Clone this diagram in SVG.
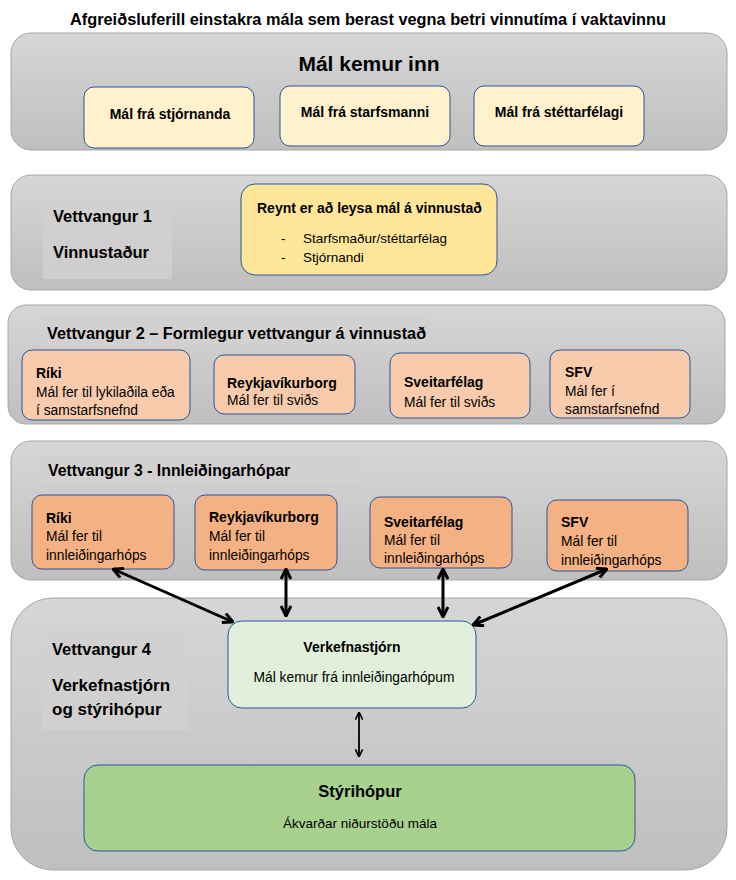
<svg xmlns="http://www.w3.org/2000/svg" width="736" height="880" viewBox="0 0 736 880">
<defs>
<linearGradient id="pg" x1="0" y1="0" x2="0" y2="1">
<stop offset="0" stop-color="#d6d6d6"/>
<stop offset="1" stop-color="#bfbfbf"/>
</linearGradient>
<marker id="ah" viewBox="0 0 12 12" refX="11" refY="6" markerWidth="12" markerHeight="12" markerUnits="userSpaceOnUse" orient="auto-start-reverse">
<path d="M1,1 L11,6 L1,11" fill="none" stroke="#000" stroke-width="3" stroke-linejoin="miter"/>
</marker>
<marker id="ahs" viewBox="0 0 10 10" refX="9.5" refY="5" markerWidth="9" markerHeight="9" markerUnits="userSpaceOnUse" orient="auto-start-reverse">
<path d="M1,1 L9.5,5 L1,9" fill="none" stroke="#000" stroke-width="1.8"/>
</marker>
</defs>
<style>
text{font-family:"Liberation Sans",Arial,sans-serif;fill:#000}
.b{font-weight:bold}
.panel{fill:url(#pg);stroke:#a6a6a6;stroke-width:1}
.lab{fill:#d2d0d0;opacity:0.8}
.box{stroke:#2f5597;stroke-width:1}
.y1{fill:#fff2cc}
.y2{fill:#ffe699}
.o1{fill:#f8cbad}
.o2{fill:#f4b183}
.g1{fill:#e2efda}
.g2{fill:#a9d18e}
.c{text-anchor:middle}
.arr{stroke:#000;stroke-width:3;fill:none}
.arrs{stroke:#000;stroke-width:1.8;fill:none}
</style>
<rect width="736" height="880" fill="#fff"/>
<text class="b c" x="368" y="25" font-size="16" textLength="596" lengthAdjust="spacingAndGlyphs">Afgreiðsluferill einstakra mála sem berast vegna betri vinnutíma í vaktavinnu</text>

<g id="panel1">
<rect class="panel" x="11" y="33" width="716" height="117" rx="20"/>
<text class="b c" x="369" y="71" font-size="21">Mál kemur inn</text>
</g>
<g id="n-stjornanda">
<rect class="box y1" x="84" y="87" width="170" height="61" rx="10"/>
<text class="b c" x="170" y="119" font-size="14">Mál frá stjórnanda</text>
</g>
<g id="n-starfsmanni">
<rect class="box y1" x="280" y="86" width="170" height="60" rx="10"/>
<text class="b c" x="365" y="117" font-size="14">Mál frá starfsmanni</text>
</g>
<g id="n-stettarfelagi">
<rect class="box y1" x="474" y="86" width="170" height="60" rx="10"/>
<text class="b c" x="559" y="117" font-size="14">Mál frá stéttarfélagi</text>
</g>

<g id="panel2">
<rect class="panel" x="11" y="175" width="716" height="115" rx="20"/>
<rect class="lab" x="43" y="199" width="129" height="80"/>
<text class="b" x="53" y="222" font-size="16.5">Vettvangur 1</text>
<text class="b" x="53" y="258" font-size="16.5">Vinnustaður</text>
</g>
<g id="n-vinnustad">
<rect class="box y2" x="241" y="184" width="256" height="91" rx="14"/>
<text class="b" x="257" y="213" font-size="14">Reynt er að leysa mál á vinnustað</text>
<text x="281" y="243" font-size="13.5">-</text>
<text x="303" y="243" font-size="13.5">Starfsmaður/stéttarfélag</text>
<text x="281" y="262" font-size="13.5">-</text>
<text x="303" y="262" font-size="13.5">Stjórnandi</text>
</g>

<g id="panel3">
<rect class="panel" x="8" y="305" width="717" height="119" rx="18"/>
<rect class="lab" x="38" y="318" width="392" height="27"/>
<text class="b" x="47" y="339" font-size="16.3">Vettvangur 2 – Formlegur vettvangur á vinnustað</text>
</g>
<g id="n2-riki">
<rect class="box o1" x="22" y="350" width="168" height="70" rx="10"/>
<text class="b" x="36" y="378" font-size="14">Ríki</text>
<text x="36" y="397" font-size="13.8">Mál fer til lykilaðila eða</text>
<text x="36" y="415" font-size="13.8">í samstarfsnefnd</text>
</g>
<g id="n2-reykjavik">
<rect class="box o1" x="214" y="355" width="141" height="59" rx="10"/>
<text class="b" x="227" y="388" font-size="14">Reykjavíkurborg</text>
<text x="227" y="405" font-size="13.8">Mál fer til sviðs</text>
</g>
<g id="n2-sveitarfelag">
<rect class="box o1" x="390" y="353" width="140" height="65" rx="10"/>
<text class="b" x="404" y="387" font-size="14">Sveitarfélag</text>
<text x="404" y="407" font-size="13.8">Mál fer til sviðs</text>
</g>
<g id="n2-sfv">
<rect class="box o1" x="550" y="350" width="140" height="68" rx="10"/>
<text class="b" x="565" y="377" font-size="14">SFV</text>
<text x="565" y="396" font-size="13.8">Mál fer í</text>
<text x="565" y="414" font-size="13.8">samstarfsnefnd</text>
</g>

<g id="panel4">
<rect class="panel" x="11" y="441" width="716" height="139" rx="20"/>
<rect class="lab" x="38" y="455" width="324" height="30"/>
<text class="b" x="48" y="476" font-size="15.8">Vettvangur 3 - Innleiðingarhópar</text>
</g>
<g id="n3-riki">
<rect class="box o2" x="32" y="495" width="142" height="74" rx="10"/>
<text class="b" x="46" y="523" font-size="14">Ríki</text>
<text x="46" y="541" font-size="13.8">Mál fer til</text>
<text x="46" y="560" font-size="13.8">innleiðingarhóps</text>
</g>
<g id="n3-reykjavik">
<rect class="box o2" x="195" y="495" width="142" height="75" rx="10"/>
<text class="b" x="209" y="522" font-size="14">Reykjavíkurborg</text>
<text x="209" y="541" font-size="13.8">Mál fer til</text>
<text x="209" y="560" font-size="13.8">innleiðingarhóps</text>
</g>
<g id="n3-sveitarfelag">
<rect class="box o2" x="370" y="497" width="142" height="71" rx="10"/>
<text class="b" x="384" y="527" font-size="14">Sveitarfélag</text>
<text x="384" y="545" font-size="13.8">Mál fer til</text>
<text x="384" y="563" font-size="13.8">innleiðingarhóps</text>
</g>
<g id="n3-sfv">
<rect class="box o2" x="547" y="500" width="141" height="71" rx="10"/>
<text class="b" x="561" y="527" font-size="14">SFV</text>
<text x="561" y="546" font-size="13.8">Mál fer til</text>
<text x="561" y="565" font-size="13.8">innleiðingarhóps</text>
</g>

<g id="panel5">
<rect class="panel" x="11" y="598" width="716" height="272" rx="42"/>
<rect class="lab" x="42" y="630" width="146" height="100"/>
<text class="b" x="52" y="655" font-size="16.5">Vettvangur 4</text>
<text class="b" x="52" y="691" font-size="17">Verkefnastjórn</text>
<text class="b" x="52" y="715" font-size="17">og stýrihópur</text>
</g>
<g id="n-verkefnastjorn">
<rect class="box g1" x="228" y="621" width="248" height="87" rx="14"/>
<text class="b c" x="352" y="652" font-size="14">Verkefnastjórn</text>
<text class="c" x="354" y="682" font-size="13.8">Mál kemur frá innleiðingarhópum</text>
</g>
<g id="n-styrihopur">
<rect class="box g2" x="84" y="765" width="551" height="86" rx="14"/>
<text class="b c" x="360" y="797" font-size="16.5">Stýrihópur</text>
<text class="c" x="360" y="828" font-size="13.5">Ákvarðar niðurstöðu mála</text>
</g>

<g id="connectors">
<line class="arr" x1="113" y1="569" x2="233" y2="622" marker-start="url(#ah)" marker-end="url(#ah)"/>
<line class="arr" x1="286" y1="569" x2="286" y2="616" marker-start="url(#ah)" marker-end="url(#ah)"/>
<line class="arr" x1="443" y1="569" x2="443" y2="617" marker-start="url(#ah)" marker-end="url(#ah)"/>
<line class="arr" x1="607" y1="569" x2="473" y2="625" marker-start="url(#ah)" marker-end="url(#ah)"/>
<line class="arrs" x1="359" y1="712" x2="359" y2="757" marker-start="url(#ahs)" marker-end="url(#ahs)"/>
</g>
</svg>
